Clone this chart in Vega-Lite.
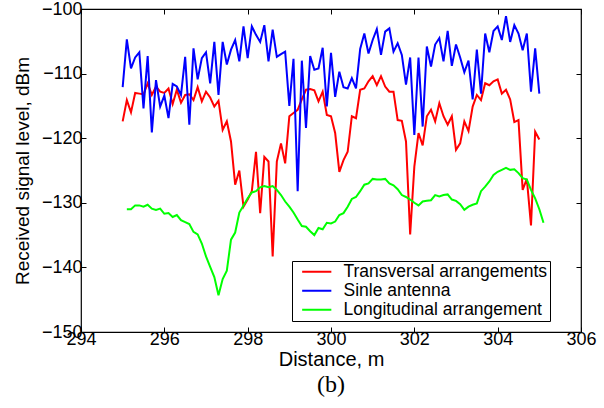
{
"$schema": "https://vega.github.io/schema/vega-lite/v6.json",
"width": 500, "height": 323,
"autosize": {"type": "none"},
"padding": {"left": 81, "top": 9, "right": 23, "bottom": 76},
"background": "white",
"config": {
  "view": {"stroke": "black", "strokeWidth": 1.2},
  "font": "Liberation Sans",
  "axis": {"grid": false, "domain": false, "tickColor": "black", "tickSize": -5, "tickWidth": 1, "labelColor": "black", "labelFontSize": 18, "titleFontSize": 19, "titleFontWeight": "normal", "titleColor": "black", "labelFlush": false, "labelOverlap": false}
},
"title": {"text": "(b)", "orient": "bottom", "font": "Liberation Serif", "fontSize": 24, "fontWeight": "normal", "color": "black", "offset": 4},
"data": {"values": [
{"d":295.0,"v":-117.4,"s":"T"},{"d":295.1,"v":-114.1,"s":"T"},{"d":295.2,"v":-116.0,"s":"T"},{"d":295.3,"v":-113.0,"s":"T"},{"d":295.4,"v":-113.1,"s":"T"},{"d":295.5,"v":-113.2,"s":"T"},{"d":295.6,"v":-111.5,"s":"T"},{"d":295.7,"v":-113.3,"s":"T"},{"d":295.8,"v":-112.0,"s":"T"},{"d":295.9,"v":-112.8,"s":"T"},
{"d":296.0,"v":-113.0,"s":"T"},{"d":296.1,"v":-112.3,"s":"T"},{"d":296.2,"v":-114.7,"s":"T"},{"d":296.3,"v":-112.5,"s":"T"},{"d":296.4,"v":-114.5,"s":"T"},{"d":296.5,"v":-113.3,"s":"T"},{"d":296.6,"v":-113.2,"s":"T"},{"d":296.7,"v":-114.1,"s":"T"},{"d":296.8,"v":-112.1,"s":"T"},{"d":296.9,"v":-114.3,"s":"T"},
{"d":297.0,"v":-112.8,"s":"T"},{"d":297.1,"v":-113.7,"s":"T"},{"d":297.2,"v":-115.1,"s":"T"},{"d":297.3,"v":-114.2,"s":"T"},{"d":297.4,"v":-118.7,"s":"T"},{"d":297.5,"v":-117.4,"s":"T"},{"d":297.6,"v":-120.5,"s":"T"},{"d":297.7,"v":-127.2,"s":"T"},{"d":297.8,"v":-125.0,"s":"T"},{"d":297.9,"v":-130.6,"s":"T"},
{"d":298.0,"v":-129.5,"s":"T"},{"d":298.1,"v":-128.2,"s":"T"},{"d":298.2,"v":-122.1,"s":"T"},{"d":298.3,"v":-131.6,"s":"T"},{"d":298.4,"v":-122.9,"s":"T"},{"d":298.5,"v":-123.6,"s":"T"},{"d":298.6,"v":-138.3,"s":"T"},{"d":298.7,"v":-123.6,"s":"T"},{"d":298.8,"v":-120.8,"s":"T"},{"d":298.9,"v":-123.9,"s":"T"},
{"d":299.0,"v":-116.6,"s":"T"},{"d":299.1,"v":-116.1,"s":"T"},{"d":299.2,"v":-115.6,"s":"T"},{"d":299.3,"v":-114.0,"s":"T"},{"d":299.4,"v":-112.5,"s":"T"},{"d":299.5,"v":-112.4,"s":"T"},{"d":299.6,"v":-112.6,"s":"T"},{"d":299.7,"v":-114.3,"s":"T"},{"d":299.8,"v":-112.8,"s":"T"},{"d":299.9,"v":-116.4,"s":"T"},
{"d":300.0,"v":-116.6,"s":"T"},{"d":300.1,"v":-119.2,"s":"T"},{"d":300.2,"v":-125.2,"s":"T"},{"d":300.3,"v":-123.4,"s":"T"},{"d":300.4,"v":-122.1,"s":"T"},{"d":300.5,"v":-116.6,"s":"T"},{"d":300.6,"v":-116.9,"s":"T"},{"d":300.7,"v":-112.5,"s":"T"},{"d":300.8,"v":-112.3,"s":"T"},{"d":300.9,"v":-111.2,"s":"T"},
{"d":301.0,"v":-110.4,"s":"T"},{"d":301.1,"v":-111.8,"s":"T"},{"d":301.2,"v":-110.4,"s":"T"},{"d":301.3,"v":-112.0,"s":"T"},{"d":301.4,"v":-112.8,"s":"T"},{"d":301.5,"v":-112.8,"s":"T"},{"d":301.6,"v":-117.2,"s":"T"},{"d":301.7,"v":-117.3,"s":"T"},{"d":301.8,"v":-120.5,"s":"T"},{"d":301.9,"v":-134.9,"s":"T"},
{"d":302.0,"v":-124.4,"s":"T"},{"d":302.1,"v":-119.2,"s":"T"},{"d":302.2,"v":-121.1,"s":"T"},{"d":302.3,"v":-116.6,"s":"T"},{"d":302.4,"v":-115.6,"s":"T"},{"d":302.5,"v":-117.4,"s":"T"},{"d":302.6,"v":-114.6,"s":"T"},{"d":302.7,"v":-116.6,"s":"T"},{"d":302.8,"v":-117.9,"s":"T"},{"d":302.9,"v":-116.6,"s":"T"},
{"d":303.0,"v":-121.8,"s":"T"},{"d":303.1,"v":-120.8,"s":"T"},{"d":303.2,"v":-117.4,"s":"T"},{"d":303.3,"v":-118.9,"s":"T"},{"d":303.4,"v":-115.1,"s":"T"},{"d":303.5,"v":-113.3,"s":"T"},{"d":303.6,"v":-114.1,"s":"T"},{"d":303.7,"v":-111.5,"s":"T"},{"d":303.8,"v":-111.8,"s":"T"},{"d":303.9,"v":-111.2,"s":"T"},
{"d":304.0,"v":-110.9,"s":"T"},{"d":304.1,"v":-113.1,"s":"T"},{"d":304.2,"v":-112.5,"s":"T"},{"d":304.3,"v":-114.0,"s":"T"},{"d":304.4,"v":-117.5,"s":"T"},{"d":304.5,"v":-117.2,"s":"T"},{"d":304.6,"v":-128.0,"s":"T"},{"d":304.7,"v":-126.3,"s":"T"},{"d":304.8,"v":-133.5,"s":"T"},{"d":304.9,"v":-119.0,"s":"T"},{"d":305.0,"v":-120.2,"s":"T"},
{"d":295.0,"v":-112.1,"s":"S"},{"d":295.1,"v":-104.7,"s":"S"},{"d":295.2,"v":-109.2,"s":"S"},{"d":295.3,"v":-107.5,"s":"S"},{"d":295.4,"v":-106.7,"s":"S"},{"d":295.5,"v":-115.4,"s":"S"},{"d":295.6,"v":-107.3,"s":"S"},{"d":295.7,"v":-119.1,"s":"S"},{"d":295.8,"v":-111.0,"s":"S"},{"d":295.9,"v":-115.1,"s":"S"},
{"d":296.0,"v":-113.4,"s":"S"},{"d":296.1,"v":-116.9,"s":"S"},{"d":296.2,"v":-111.6,"s":"S"},{"d":296.3,"v":-112.0,"s":"S"},{"d":296.4,"v":-113.3,"s":"S"},{"d":296.5,"v":-107.4,"s":"S"},{"d":296.6,"v":-117.9,"s":"S"},{"d":296.7,"v":-106.1,"s":"S"},{"d":296.8,"v":-110.9,"s":"S"},{"d":296.9,"v":-107.6,"s":"S"},
{"d":297.0,"v":-106.7,"s":"S"},{"d":297.1,"v":-111.5,"s":"S"},{"d":297.2,"v":-105.1,"s":"S"},{"d":297.3,"v":-113.3,"s":"S"},{"d":297.4,"v":-105.1,"s":"S"},{"d":297.5,"v":-108.6,"s":"S"},{"d":297.6,"v":-106.3,"s":"S"},{"d":297.7,"v":-104.8,"s":"S"},{"d":297.8,"v":-108.1,"s":"S"},{"d":297.9,"v":-102.7,"s":"S"},
{"d":298.0,"v":-107.6,"s":"S"},{"d":298.1,"v":-102.7,"s":"S"},{"d":298.2,"v":-104.0,"s":"S"},{"d":298.3,"v":-105.1,"s":"S"},{"d":298.4,"v":-102.5,"s":"S"},{"d":298.5,"v":-108.1,"s":"S"},{"d":298.6,"v":-103.2,"s":"S"},{"d":298.7,"v":-107.4,"s":"S"},{"d":298.8,"v":-107.0,"s":"S"},{"d":298.9,"v":-106.6,"s":"S"},
{"d":299.0,"v":-115.0,"s":"S"},{"d":299.1,"v":-107.7,"s":"S"},{"d":299.2,"v":-128.2,"s":"S"},{"d":299.3,"v":-108.0,"s":"S"},{"d":299.4,"v":-118.4,"s":"S"},{"d":299.5,"v":-107.3,"s":"S"},{"d":299.6,"v":-109.4,"s":"S"},{"d":299.7,"v":-109.2,"s":"S"},{"d":299.8,"v":-106.0,"s":"S"},{"d":299.9,"v":-115.1,"s":"S"},
{"d":300.0,"v":-106.8,"s":"S"},{"d":300.1,"v":-113.6,"s":"S"},{"d":300.2,"v":-109.7,"s":"S"},{"d":300.3,"v":-112.1,"s":"S"},{"d":300.4,"v":-112.3,"s":"S"},{"d":300.5,"v":-110.7,"s":"S"},{"d":300.6,"v":-112.3,"s":"S"},{"d":300.7,"v":-106.2,"s":"S"},{"d":300.8,"v":-103.8,"s":"S"},{"d":300.9,"v":-106.9,"s":"S"},
{"d":301.0,"v":-104.8,"s":"S"},{"d":301.1,"v":-103.1,"s":"S"},{"d":301.2,"v":-107.1,"s":"S"},{"d":301.3,"v":-103.5,"s":"S"},{"d":301.4,"v":-103.0,"s":"S"},{"d":301.5,"v":-106.6,"s":"S"},{"d":301.6,"v":-105.3,"s":"S"},{"d":301.7,"v":-107.1,"s":"S"},{"d":301.8,"v":-111.7,"s":"S"},{"d":301.9,"v":-107.5,"s":"S"},
{"d":302.0,"v":-119.5,"s":"S"},{"d":302.1,"v":-107.5,"s":"S"},{"d":302.2,"v":-118.2,"s":"S"},{"d":302.3,"v":-105.8,"s":"S"},{"d":302.4,"v":-108.9,"s":"S"},{"d":302.5,"v":-105.5,"s":"S"},{"d":302.6,"v":-104.5,"s":"S"},{"d":302.7,"v":-108.1,"s":"S"},{"d":302.8,"v":-103.4,"s":"S"},{"d":302.9,"v":-108.8,"s":"S"},
{"d":303.0,"v":-105.5,"s":"S"},{"d":303.1,"v":-107.5,"s":"S"},{"d":303.2,"v":-109.8,"s":"S"},{"d":303.3,"v":-108.0,"s":"S"},{"d":303.4,"v":-114.0,"s":"S"},{"d":303.5,"v":-106.3,"s":"S"},{"d":303.6,"v":-113.1,"s":"S"},{"d":303.7,"v":-103.8,"s":"S"},{"d":303.8,"v":-106.7,"s":"S"},{"d":303.9,"v":-103.4,"s":"S"},
{"d":304.0,"v":-102.7,"s":"S"},{"d":304.1,"v":-104.8,"s":"S"},{"d":304.2,"v":-101.1,"s":"S"},{"d":304.3,"v":-105.1,"s":"S"},{"d":304.4,"v":-102.5,"s":"S"},{"d":304.5,"v":-103.8,"s":"S"},{"d":304.6,"v":-106.4,"s":"S"},{"d":304.7,"v":-103.8,"s":"S"},{"d":304.8,"v":-112.8,"s":"S"},{"d":304.9,"v":-106.1,"s":"S"},{"d":305.0,"v":-113.1,"s":"S"},
{"d":295.1,"v":-131.0,"s":"L"},{"d":295.2,"v":-131.0,"s":"L"},{"d":295.3,"v":-130.4,"s":"L"},{"d":295.4,"v":-130.4,"s":"L"},{"d":295.5,"v":-130.6,"s":"L"},{"d":295.6,"v":-130.3,"s":"L"},{"d":295.7,"v":-130.9,"s":"L"},{"d":295.8,"v":-131.1,"s":"L"},{"d":295.9,"v":-130.9,"s":"L"},
{"d":296.0,"v":-131.7,"s":"L"},{"d":296.1,"v":-131.6,"s":"L"},{"d":296.2,"v":-132.2,"s":"L"},{"d":296.3,"v":-131.9,"s":"L"},{"d":296.4,"v":-132.7,"s":"L"},{"d":296.5,"v":-133.0,"s":"L"},{"d":296.6,"v":-133.3,"s":"L"},{"d":296.7,"v":-134.5,"s":"L"},{"d":296.8,"v":-134.9,"s":"L"},{"d":296.9,"v":-136.3,"s":"L"},
{"d":297.0,"v":-138.3,"s":"L"},{"d":297.1,"v":-139.9,"s":"L"},{"d":297.2,"v":-141.5,"s":"L"},{"d":297.3,"v":-144.3,"s":"L"},{"d":297.4,"v":-141.8,"s":"L"},{"d":297.5,"v":-140.5,"s":"L"},{"d":297.6,"v":-135.7,"s":"L"},{"d":297.7,"v":-134.6,"s":"L"},{"d":297.8,"v":-131.5,"s":"L"},{"d":297.9,"v":-130.4,"s":"L"},
{"d":298.0,"v":-129.3,"s":"L"},{"d":298.1,"v":-128.4,"s":"L"},{"d":298.2,"v":-128.2,"s":"L"},{"d":298.3,"v":-127.6,"s":"L"},{"d":298.4,"v":-127.4,"s":"L"},{"d":298.5,"v":-127.6,"s":"L"},{"d":298.6,"v":-127.4,"s":"L"},{"d":298.7,"v":-128.0,"s":"L"},{"d":298.8,"v":-128.8,"s":"L"},{"d":298.9,"v":-129.8,"s":"L"},
{"d":299.0,"v":-130.6,"s":"L"},{"d":299.1,"v":-131.5,"s":"L"},{"d":299.2,"v":-132.6,"s":"L"},{"d":299.3,"v":-133.6,"s":"L"},{"d":299.4,"v":-133.7,"s":"L"},{"d":299.5,"v":-134.4,"s":"L"},{"d":299.6,"v":-135.0,"s":"L"},{"d":299.7,"v":-133.9,"s":"L"},{"d":299.8,"v":-134.1,"s":"L"},{"d":299.9,"v":-133.1,"s":"L"},
{"d":300.0,"v":-133.2,"s":"L"},{"d":300.1,"v":-132.9,"s":"L"},{"d":300.2,"v":-131.9,"s":"L"},{"d":300.3,"v":-131.6,"s":"L"},{"d":300.4,"v":-130.6,"s":"L"},{"d":300.5,"v":-129.4,"s":"L"},{"d":300.6,"v":-129.1,"s":"L"},{"d":300.7,"v":-128.2,"s":"L"},{"d":300.8,"v":-127.2,"s":"L"},{"d":300.9,"v":-127.0,"s":"L"},
{"d":301.0,"v":-126.3,"s":"L"},{"d":301.1,"v":-126.4,"s":"L"},{"d":301.2,"v":-126.4,"s":"L"},{"d":301.3,"v":-126.3,"s":"L"},{"d":301.4,"v":-127.0,"s":"L"},{"d":301.5,"v":-127.3,"s":"L"},{"d":301.6,"v":-127.9,"s":"L"},{"d":301.7,"v":-128.8,"s":"L"},{"d":301.8,"v":-129.1,"s":"L"},{"d":301.9,"v":-129.5,"s":"L"},
{"d":302.0,"v":-130.0,"s":"L"},{"d":302.1,"v":-130.4,"s":"L"},{"d":302.2,"v":-129.8,"s":"L"},{"d":302.3,"v":-129.7,"s":"L"},{"d":302.4,"v":-129.6,"s":"L"},{"d":302.5,"v":-128.8,"s":"L"},{"d":302.6,"v":-129.0,"s":"L"},{"d":302.7,"v":-128.8,"s":"L"},{"d":302.8,"v":-128.7,"s":"L"},{"d":302.9,"v":-129.5,"s":"L"},
{"d":303.0,"v":-129.7,"s":"L"},{"d":303.1,"v":-130.2,"s":"L"},{"d":303.2,"v":-131.1,"s":"L"},{"d":303.3,"v":-130.6,"s":"L"},{"d":303.4,"v":-130.3,"s":"L"},{"d":303.5,"v":-130.1,"s":"L"},{"d":303.6,"v":-128.2,"s":"L"},{"d":303.7,"v":-127.5,"s":"L"},{"d":303.8,"v":-126.7,"s":"L"},{"d":303.9,"v":-125.7,"s":"L"},
{"d":304.0,"v":-125.2,"s":"L"},{"d":304.1,"v":-124.9,"s":"L"},{"d":304.2,"v":-124.6,"s":"L"},{"d":304.3,"v":-124.9,"s":"L"},{"d":304.4,"v":-124.8,"s":"L"},{"d":304.5,"v":-125.4,"s":"L"},{"d":304.6,"v":-126.2,"s":"L"},{"d":304.7,"v":-126.4,"s":"L"},{"d":304.8,"v":-128.0,"s":"L"},{"d":304.9,"v":-129.3,"s":"L"},{"d":305.0,"v":-131.0,"s":"L"},{"d":305.1,"v":-133.1,"s":"L"}
]},
"resolve": {"axis": {"x": "independent", "y": "independent"}},
"layer": [
  {
    "mark": {"type": "line", "strokeWidth": 2, "clip": true},
    "encoding": {
      "x": {"field": "d", "type": "quantitative", "scale": {"domain": [294, 306], "nice": false, "zero": false},
            "axis": {"values": [294,296,298,300,302,304,306], "title": "Distance, m", "titleFontSize": 20, "labelPadding": 3, "titlePadding": 1}},
      "y": {"field": "v", "type": "quantitative", "scale": {"domain": [-150, -100], "nice": false, "zero": false},
            "axis": {"values": [-150,-140,-130,-120,-110,-100], "title": "Received signal level, dBm", "labelPadding": 4, "titlePadding": 9}},
      "color": {"field": "s", "type": "nominal",
        "scale": {"domain": ["T", "S", "L"], "range": ["#ff0000", "#0000ff", "#00ff00"]},
        "legend": {"title": null, "orient": "none", "legendX": 211, "legendY": 252,
          "labelExpr": "datum.value == 'T' ? 'Transversal arrangements' : datum.value == 'S' ? 'Sinle antenna' : 'Longitudinal arrangement'",
          "symbolType": "M-4.4,0H4.4", "symbolSize": 44, "symbolStrokeWidth": 2, "labelFontSize": 17.5, "labelColor": "black",
          "strokeColor": "black", "fillColor": "white", "padding": 2, "rowPadding": 0, "symbolOffset": 14, "labelOffset": 18, "labelLimit": 400}}
    }
  },
  {
    "mark": {"type": "line", "opacity": 0},
    "encoding": {
      "x": {"field": "d", "type": "quantitative", "axis": {"orient": "top", "values": [294,296,298,300,302,304,306], "labels": false, "title": null}},
      "y": {"field": "v", "type": "quantitative", "axis": {"orient": "right", "values": [-150,-140,-130,-120,-110,-100], "labels": false, "title": null}},
      "detail": {"field": "s"}
    }
  }
]
}
